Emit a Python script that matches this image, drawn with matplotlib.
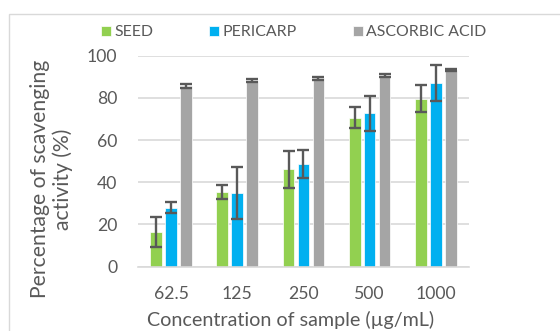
import numpy as np
import matplotlib.pyplot as plt
from matplotlib.patches import Rectangle

plt.rcParams['font.family'] = ['Lato', 'DejaVu Sans']

concentrations = ['62.5', '125', '250', '500', '1000']
seed = [16.5, 35.5, 46.2, 70.5, 79.7]
seed_err = [7.0, 3.2, 8.8, 5.0, 6.6]
pericarp = [28.0, 34.8, 48.7, 72.8, 87.0]
pericarp_err = [2.7, 12.4, 6.6, 8.3, 8.4]
ascorbic = [85.8, 88.2, 89.2, 90.5, 93.2]
ascorbic_err = [1.0, 0.6, 0.6, 0.6, 0.6]

series = [('SEED', seed, seed_err, '#92D050'),
          ('PERICARP', pericarp, pericarp_err, '#00B0F0'),
          ('ASCORBIC ACID', ascorbic, ascorbic_err, '#A5A5A5')]

fig = plt.figure(figsize=(5.6, 3.31), dpi=100)
ax = fig.add_axes([0.2464, 0.1943, 0.591, 0.6374])

# light chart border
fig.patches.append(Rectangle((9 / 560, -0.2), 1.2, 1.2 - 14 / 331,
                             transform=fig.transFigure, fill=False,
                             edgecolor='#D9D9D9', linewidth=1.0))

x = np.arange(len(concentrations))
width = 0.176
step = 0.226
for i, (name, vals, errs, col) in enumerate(series):
    ax.bar(x + (i - 1) * step, vals, width, color=col, edgecolor='white',
           linewidth=0.5, label=name, zorder=2,
           yerr=errs, error_kw=dict(ecolor='#595959', elinewidth=1.7,
                                    capsize=4.3, capthick=1.7, zorder=3))

ax.set_xlim(-0.5, 4.5)
ax.set_ylim(0, 100)
ax.set_yticks(range(0, 101, 20))
ax.set_xticks(x)
ax.set_xticklabels(concentrations)
ax.yaxis.grid(True, color='#D9D9D9', linewidth=1.2, zorder=0)
ax.set_axisbelow(True)
for s in ['top', 'right', 'left']:
    ax.spines[s].set_visible(False)
ax.spines['bottom'].set_color('#D9D9D9')
ax.spines['bottom'].set_linewidth(1.2)
ax.tick_params(axis='both', length=0, labelsize=12.7, colors='#595959')
ax.tick_params(axis='x', pad=14)
ax.tick_params(axis='y', pad=15)

ax.set_xlabel('Concentration of sample (µg/mL)', fontsize=14.2,
              color='#595959', va='center')
ax.xaxis.set_label_coords(0.46, -0.253)
ax.set_ylabel('Percentage of scavenging\nactivity (%)', fontsize=15.2,
              color='#595959', va='center', linespacing=1.15)
ax.yaxis.set_label_coords(-0.26, 0.416)

ax.legend(loc='center left', bbox_to_anchor=(-0.113, 1.11), ncol=3,
          frameon=False, fontsize=11.4, handlelength=0.63, handleheight=0.63,
          handletextpad=0.25, columnspacing=3.5, labelcolor='#595959',
          borderaxespad=0, borderpad=0)

fig.savefig('out.png', dpi=100)
